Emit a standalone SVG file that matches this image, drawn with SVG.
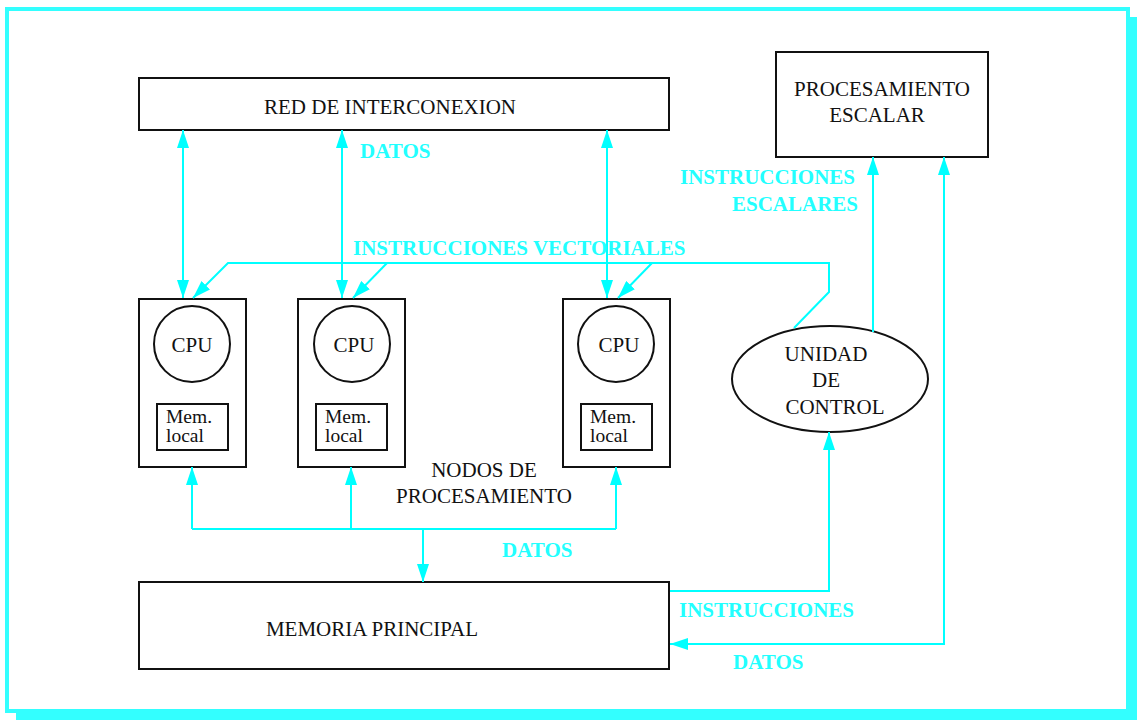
<svg xmlns="http://www.w3.org/2000/svg" width="1137" height="720" viewBox="0 0 1137 720">
  <style>
    .box { fill: #ffffff; stroke: #111111; stroke-width: 2; }
    .lbl { font-family: "Liberation Serif", "Times New Roman", serif; font-size: 21px; fill: #111111; }
    .mem { font-family: "Liberation Serif", "Times New Roman", serif; font-size: 19.5px; fill: #111111; }
    .cy { font-family: "Liberation Serif", "Times New Roman", serif; font-size: 21px; font-weight: bold; fill: #22ffff; }
    .wire { fill: none; stroke: #00ffff; stroke-width: 2; }
  </style>
  <defs>
    <marker id="ah" markerUnits="userSpaceOnUse" markerWidth="18" markerHeight="12" refX="18" refY="6" orient="auto-start-reverse" viewBox="0 0 18 12">
      <path d="M0,0 L18,6 L0,12 z" fill="#00ffff"/>
    </marker>
  </defs>

  <!-- page frame with drop shadow -->
  <g id="frame">
    <rect x="16" y="17" width="1121" height="703" fill="#33ffff"/>
    <rect x="7" y="9" width="1121" height="702" fill="#ffffff" stroke="#33ffff" stroke-width="4"/>
  </g>

  <g id="red">
    <rect class="box" x="139" y="78" width="530" height="52"/>
    <text class="lbl" x="390" y="114" text-anchor="middle">RED DE INTERCONEXION</text>
  </g>

  <g id="escalar">
    <rect class="box" x="776" y="52" width="212" height="105"/>
    <text class="lbl" x="882" y="96" text-anchor="middle">PROCESAMIENTO</text>
    <text class="lbl" x="877" y="122" text-anchor="middle">ESCALAR</text>
  </g>

  <g id="nodo1">
    <rect class="box" x="139" y="299" width="107" height="168"/>
    <circle class="box" cx="192" cy="344" r="38"/>
    <text class="lbl" x="192" y="352" text-anchor="middle">CPU</text>
    <rect class="box" x="157" y="404" width="71" height="46"/>
    <text class="mem" x="166" y="423">Mem.</text>
    <text class="mem" x="166" y="442">local</text>
  </g>

  <g id="nodo2">
    <rect class="box" x="298" y="299" width="107" height="168"/>
    <circle class="box" cx="352" cy="344" r="38"/>
    <text class="lbl" x="354" y="352" text-anchor="middle">CPU</text>
    <rect class="box" x="316" y="404" width="71" height="46"/>
    <text class="mem" x="325" y="423">Mem.</text>
    <text class="mem" x="325" y="442">local</text>
  </g>

  <g id="nodo3">
    <rect class="box" x="563" y="299" width="107" height="168"/>
    <circle class="box" cx="616" cy="344" r="38"/>
    <text class="lbl" x="619" y="352" text-anchor="middle">CPU</text>
    <rect class="box" x="581" y="404" width="71" height="46"/>
    <text class="mem" x="590" y="423">Mem.</text>
    <text class="mem" x="590" y="442">local</text>
  </g>

  <g id="nodos-texto">
    <text class="lbl" x="484" y="477" text-anchor="middle">NODOS DE</text>
    <text class="lbl" x="484" y="503" text-anchor="middle">PROCESAMIENTO</text>
  </g>

  <g id="control">
    <ellipse class="box" cx="830" cy="379" rx="98" ry="53"/>
    <text class="lbl" x="826" y="361" text-anchor="middle">UNIDAD</text>
    <text class="lbl" x="826" y="387" text-anchor="middle">DE</text>
    <text class="lbl" x="835" y="414" text-anchor="middle">CONTROL</text>
  </g>

  <g id="memoria">
    <rect class="box" x="139" y="582" width="530" height="87"/>
    <text class="lbl" x="372" y="636" text-anchor="middle">MEMORIA PRINCIPAL</text>
  </g>

  <g id="connectors">
    <!-- interconnection network <-> CPUs -->
    <path class="wire" d="M183,130 L183,298" marker-start="url(#ah)" marker-end="url(#ah)"/>
    <path class="wire" d="M342,130 L342,298" marker-start="url(#ah)" marker-end="url(#ah)"/>
    <path class="wire" d="M607,130 L607,298" marker-start="url(#ah)" marker-end="url(#ah)"/>

    <!-- vector instructions from control unit -->
    <path class="wire" d="M794,328 L829,292 L829,263 L228,263 L193,298" marker-end="url(#ah)"/>
    <path class="wire" d="M387,263 L353,298" marker-end="url(#ah)"/>
    <path class="wire" d="M652,263 L618,298" marker-end="url(#ah)"/>

    <!-- scalar instructions -->
    <path class="wire" d="M873,332 L873,157" marker-end="url(#ah)"/>

    <!-- scalar data <-> main memory -->
    <path class="wire" d="M944,157 L944,644 L670,644" marker-start="url(#ah)" marker-end="url(#ah)"/>

    <!-- instructions: memory -> control unit -->
    <path class="wire" d="M670,591 L829,591 L829,432" marker-end="url(#ah)"/>

    <!-- data bus between nodes and memory -->
    <path class="wire" d="M192,529 L616,529"/>
    <path class="wire" d="M192,529 L192,467" marker-end="url(#ah)"/>
    <path class="wire" d="M351,529 L351,467" marker-end="url(#ah)"/>
    <path class="wire" d="M616,529 L616,467" marker-end="url(#ah)"/>
    <path class="wire" d="M423,529 L423,582" marker-end="url(#ah)"/>

    <text class="cy" x="360" y="158">DATOS</text>
    <text class="cy" x="353" y="255">INSTRUCCIONES VECTORIALES</text>
    <text class="cy" x="855" y="184" text-anchor="end">INSTRUCCIONES</text>
    <text class="cy" x="858" y="211" text-anchor="end">ESCALARES</text>
    <text class="cy" x="502" y="557">DATOS</text>
    <text class="cy" x="679" y="617">INSTRUCCIONES</text>
    <text class="cy" x="733" y="669">DATOS</text>
  </g>
</svg>
